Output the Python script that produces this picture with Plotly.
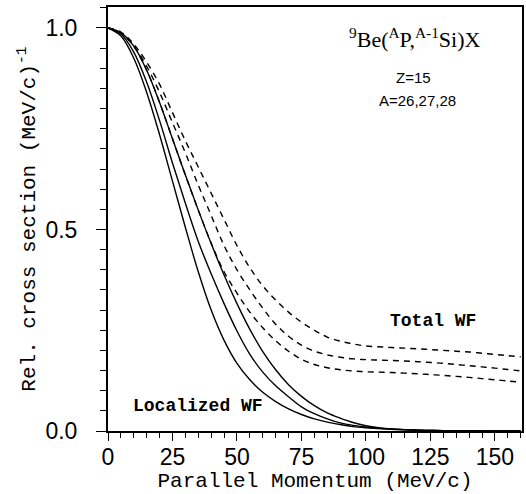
import plotly.graph_objects as go

# Parallel momentum grid (MeV/c)
momentum = [0, 5, 10, 15, 20, 25, 30, 35, 40, 45, 50, 55, 60, 65, 70, 75, 80, 85, 90,
            95, 100, 105, 110, 115, 120, 125, 130, 135, 140, 145, 150, 155, 160]

# Localized WF (solid)
loc_a26 = [1.0, 0.98, 0.925, 0.84, 0.735, 0.62, 0.505, 0.395, 0.30, 0.225, 0.168, 0.127, 0.096,
           0.073, 0.055, 0.041, 0.030, 0.022, 0.016, 0.011, 0.008, 0.006, 0.004, 0.003, 0.002,
           0.0015, 0.001, 0.0007, 0.0005, 0.0003, 0.0002, 0.0001, 0.0]
loc_a27 = [1.0, 0.985, 0.94, 0.865, 0.77, 0.665, 0.565, 0.47, 0.39, 0.316, 0.248, 0.19, 0.146,
           0.112, 0.085, 0.06, 0.043, 0.03, 0.02, 0.014, 0.01, 0.007, 0.005, 0.0035, 0.002,
           0.0015, 0.001, 0.0007, 0.0005, 0.0003, 0.0002, 0.0001, 0.0]
loc_a28 = [1.0, 0.988, 0.955, 0.895, 0.815, 0.725, 0.635, 0.548, 0.465, 0.387, 0.316, 0.252,
           0.197, 0.152, 0.115, 0.086, 0.063, 0.045, 0.032, 0.021, 0.013, 0.008, 0.005, 0.0035,
           0.002, 0.0015, 0.001, 0.0007, 0.0005, 0.0003, 0.0002, 0.0001, 0.0]

# Total WF (dashed)
tot_1 = [1.0, 0.988, 0.955, 0.895, 0.815, 0.725, 0.635, 0.548, 0.466, 0.395, 0.342, 0.295,
         0.256, 0.224, 0.198, 0.178, 0.165, 0.157, 0.152, 0.149, 0.147, 0.146, 0.145, 0.1435,
         0.142, 0.140, 0.138, 0.1355, 0.133, 0.130, 0.127, 0.124, 0.121]
tot_2 = [1.0, 0.988, 0.955, 0.905, 0.84, 0.765, 0.69, 0.61, 0.535, 0.46, 0.40, 0.35, 0.305,
         0.265, 0.235, 0.213, 0.198, 0.189, 0.183, 0.179, 0.177, 0.176, 0.175, 0.1735, 0.172,
         0.170, 0.168, 0.165, 0.162, 0.159, 0.156, 0.1525, 0.149]
tot_3 = [1.0, 0.99, 0.96, 0.915, 0.86, 0.79, 0.72, 0.655, 0.59, 0.525, 0.46, 0.405, 0.36,
         0.325, 0.295, 0.27, 0.25, 0.233, 0.223, 0.216, 0.211, 0.209, 0.207, 0.2055, 0.204,
         0.202, 0.20, 0.198, 0.196, 0.193, 0.19, 0.187, 0.184]

x_ticks = [0, 25, 50, 75, 100, 125, 150]
y_ticks = [0.0, 0.5, 1.0]

fig = go.Figure()
for ys in (loc_a26, loc_a27, loc_a28):
    fig.add_trace(go.Scatter(x=momentum, y=ys, mode="lines", line_shape="spline",
                             line=dict(color="black", width=1.4), showlegend=False))
for ys in (tot_1, tot_2, tot_3):
    fig.add_trace(go.Scatter(x=momentum, y=ys, mode="lines", line_shape="spline",
                             line=dict(color="black", width=1.4, dash="6px,5px"), showlegend=False))

mono = "Liberation Mono"
sans = "Liberation Sans"
serif = "Liberation Serif"

fig.update_layout(
    width=526, height=494,
    margin=dict(l=108, r=4, t=7, b=63),
    paper_bgcolor="white", plot_bgcolor="white",
    xaxis=dict(range=[0, 160.5], tickvals=x_ticks, ticks="outside", ticklen=8, tickwidth=1.3,
               tickcolor="black", showline=True, linecolor="black", linewidth=2, mirror=True,
               showgrid=False, zeroline=False, automargin=False, ticklabelstandoff=-4,
               tickfont=dict(family=sans, size=23, color="black"),
               minor=dict(dtick=5, ticks="outside", ticklen=5, tickcolor="black", tickwidth=1.2,
                          showgrid=False),
               title=dict(text="Parallel Momentum (MeV/c)",
                          font=dict(family=mono, size=21, color="black"), standoff=4)),
    yaxis=dict(range=[0, 1.052], tickvals=y_ticks, tickformat=".1f", ticks="outside", ticklen=10,
               tickwidth=1.3, tickcolor="black", showline=True, linecolor="black", linewidth=2,
               mirror=True, showgrid=False, zeroline=False, automargin=False, ticklabelstandoff=14,
               tickfont=dict(family=sans, size=23, color="black"),
               minor=dict(dtick=0.05, ticks="outside", ticklen=6, tickcolor="black", tickwidth=1.2,
                          showgrid=False),
               title=dict(text="Rel. cross section (MeV/c)<sup>-1</sup>",
                          font=dict(family=mono, size=21, color="black"), standoff=4)),
    annotations=[
        dict(text="<sup>9</sup>Be(<sup>A</sup>P,<sup>A-1</sup>Si)X", x=119, y=0.975,
             xref="x", yref="y", showarrow=False,
             font=dict(family=serif, size=22, color="black")),
        dict(text="Z=15", x=118.5, y=0.878, xref="x", yref="y", showarrow=False,
             font=dict(family=sans, size=15, color="black")),
        dict(text="A=26,27,28", x=119.8, y=0.821, xref="x", yref="y", showarrow=False,
             font=dict(family=sans, size=15, color="black")),
        dict(text="<b>Total WF</b>", x=126, y=0.273, xref="x", yref="y", showarrow=False,
             font=dict(family=mono, size=18, color="black")),
        dict(text="<b>Localized WF</b>", x=34.7, y=0.062, xref="x", yref="y", showarrow=False,
             font=dict(family=mono, size=18, color="black")),
    ],
)

fig.write_html(
    "out.html",
    config={"displayModeBar": False},
    post_script="document.documentElement.style.margin='0';document.body.style.margin='0';"
                "document.body.style.overflow='hidden';",
)
